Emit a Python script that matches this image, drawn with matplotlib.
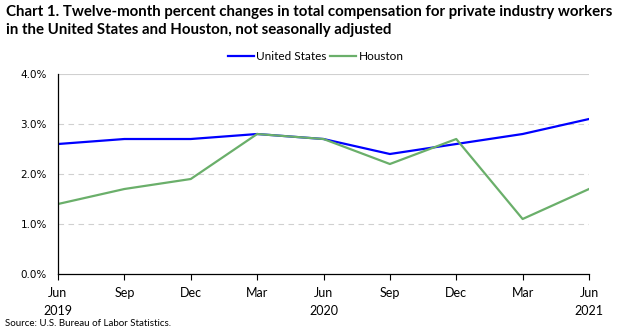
import numpy as np
import matplotlib.pyplot as plt

# data
months = ['Jun\n2019', 'Sep', 'Dec', 'Mar', 'Jun\n2020', 'Sep', 'Dec', 'Mar', 'Jun\n2021']
us = [2.6, 2.7, 2.7, 2.8, 2.7, 2.4, 2.6, 2.8, 3.1]
houston = [1.4, 1.7, 1.9, 2.8, 2.7, 2.2, 2.7, 1.1, 1.7]
yticks = [0.0, 1.0, 2.0, 3.0, 4.0]

fig = plt.figure(figsize=(6.25, 3.31), dpi=100)
ax = fig.add_axes([0.0928, 0.1722, 0.8496, 0.6042])

x = np.arange(len(months))
ax.plot(x, us, color='#0000FF', lw=1.6, label='United States')
ax.plot(x, houston, color='#6AAF6A', lw=1.6, label='Houston')

ax.set_xlim(0, len(months) - 1)
ax.set_ylim(0, 4)
ax.set_yticks(yticks)
ax.set_yticklabels(['%.1f%%' % v for v in yticks], family='DejaVu Sans', fontsize=7.5)
for v in yticks[1:-1]:
    ax.axhline(v, color='#D0D0D0', lw=0.8, ls=(0, (5, 4)), zorder=0)
ax.axhline(4, color='#D0D0D0', lw=0.8, zorder=0)
ax.tick_params(axis='y', length=0, pad=8)

ax.set_xticks(x)
ax.set_xticklabels(months, family='Lato', fontsize=9, linespacing=1.6)
ax.tick_params(axis='x', direction='out', length=4, width=0.8, color='black', pad=5)

for s in ['top', 'right']:
    ax.spines[s].set_visible(False)
for s in ['left', 'bottom']:
    ax.spines[s].set_color('black')
    ax.spines[s].set_linewidth(0.9)

fig.text(0.01, 0.985, 'Chart 1. Twelve-month percent changes in total compensation for private industry workers\n'
         'in the United States and Houston, not seasonally adjusted',
         family='Lato', weight='bold', fontsize=10.8, va='top', ha='left', linespacing=1.4)
fig.legend(loc='center', bbox_to_anchor=(0.505, 0.828), ncol=2, frameon=False,
           prop={'family': 'Lato', 'size': 8.5}, handlelength=2.2, handletextpad=0.2, columnspacing=0.3)
fig.text(0.008, 0.022, 'Source: U.S. Bureau of Labor Statistics.', family='Lato', fontsize=7, va='center')

fig.savefig('out.png', dpi=100)
